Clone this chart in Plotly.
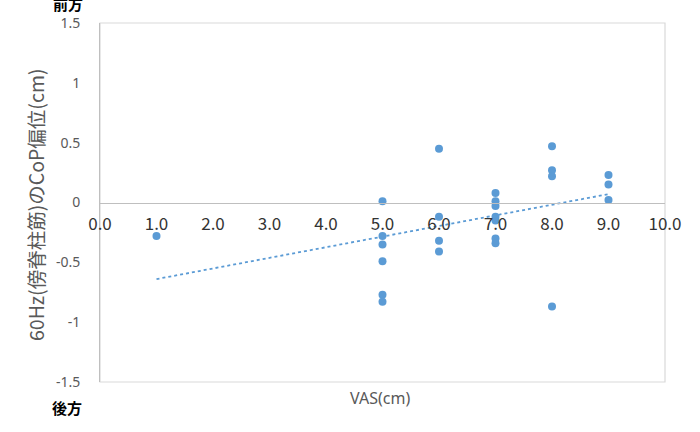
import numpy as np
import plotly.graph_objects as go

vas = [1,
       5, 5, 5, 5, 5, 5,
       6, 6, 6, 6,
       7, 7, 7, 7, 7, 7, 7,
       8, 8, 8, 8,
       9, 9, 9]
cop = [-0.28,
       0.01, -0.28, -0.35, -0.49, -0.77, -0.83,
       0.45, -0.12, -0.32, -0.41,
       0.08, 0.01, -0.03, -0.12, -0.15, -0.30, -0.34,
       0.47, 0.27, 0.22, -0.87,
       0.23, 0.15, 0.02]

x_ticks = [0, 1, 2, 3, 4, 5, 6, 7, 8, 9, 10]
x_tick_labels = ["0.0", "1.0", "2.0", "3.0", "4.0", "5.0", "6.0", "7.0", "8.0", "9.0", "10.0"]
y_ticks = [1.5, 1, 0.5, 0, -0.5, -1, -1.5]
y_tick_labels = ["1.5", "1", "0.5", "0", "-0.5", "-1", "-1.5"]

blue = "#5B9BD5"

slope, intercept = np.polyfit(vas, cop, 1)
tx = [min(vas), max(vas)]
ty = [slope * v + intercept for v in tx]

fig = go.Figure()
fig.add_trace(go.Scatter(x=tx, y=ty, mode="lines",
                         line=dict(color=blue, width=1.8, dash="dot"),
                         hoverinfo="skip", showlegend=False))
fig.add_trace(go.Scatter(x=vas, y=cop, mode="markers",
                         marker=dict(color=blue, size=8),
                         showlegend=False))

fig.update_layout(
    width=700, height=432,
    margin=dict(l=100, r=35, t=23, b=50),
    paper_bgcolor="white", plot_bgcolor="white",
    xaxis=dict(range=[0, 10], tickvals=x_ticks, ticktext=x_tick_labels,
               showgrid=False, zeroline=False, showline=True, linecolor="#BFBFBF", linewidth=1,
               anchor="free", position=0.5, ticks="", ticklabelstandoff=6,
               tickfont=dict(family="Noto Sans CJK JP", size=17, color="#333333")),
    yaxis=dict(range=[-1.5, 1.5], tickvals=y_ticks, ticktext=y_tick_labels,
               showgrid=False, zeroline=False, showline=True, linecolor="#BFBFBF", linewidth=1,
               ticks="", ticklabelstandoff=16,
               tickfont=dict(family="Noto Sans", size=14, color="#595959")),
    shapes=[dict(type="rect", xref="paper", yref="paper", x0=0, x1=1, y0=0, y1=1,
                 line=dict(color="#D9D9D9", width=1.2), layer="below")],
    annotations=[
        dict(text="VAS(cm)", xref="paper", yref="paper", x=0.496, y=0, yshift=-16,
             xanchor="center", yanchor="middle", showarrow=False,
             font=dict(family="Noto Sans", size=16, color="#595959")),
        dict(text="60Hz(傍脊柱筋)のCoP偏位(cm)", xref="paper", yref="paper", x=0, xshift=-65,
             y=0.493, xanchor="center", yanchor="middle", textangle=-90, showarrow=False,
             font=dict(family="Noto Sans CJK JP", size=19.5, color="#595959")),
        dict(text="<b>前方</b>", xref="paper", yref="paper", x=0, xshift=-32, y=1, yshift=20,
             xanchor="center", yanchor="middle", showarrow=False,
             font=dict(family="Noto Sans CJK JP", size=15, color="#000000")),
        dict(text="<b>後方</b>", xref="paper", yref="paper", x=0, xshift=-33, y=0, yshift=-25,
             xanchor="center", yanchor="middle", showarrow=False,
             font=dict(family="Noto Sans CJK JP", size=15, color="#000000")),
    ],
)

fig.write_html("out.html")
